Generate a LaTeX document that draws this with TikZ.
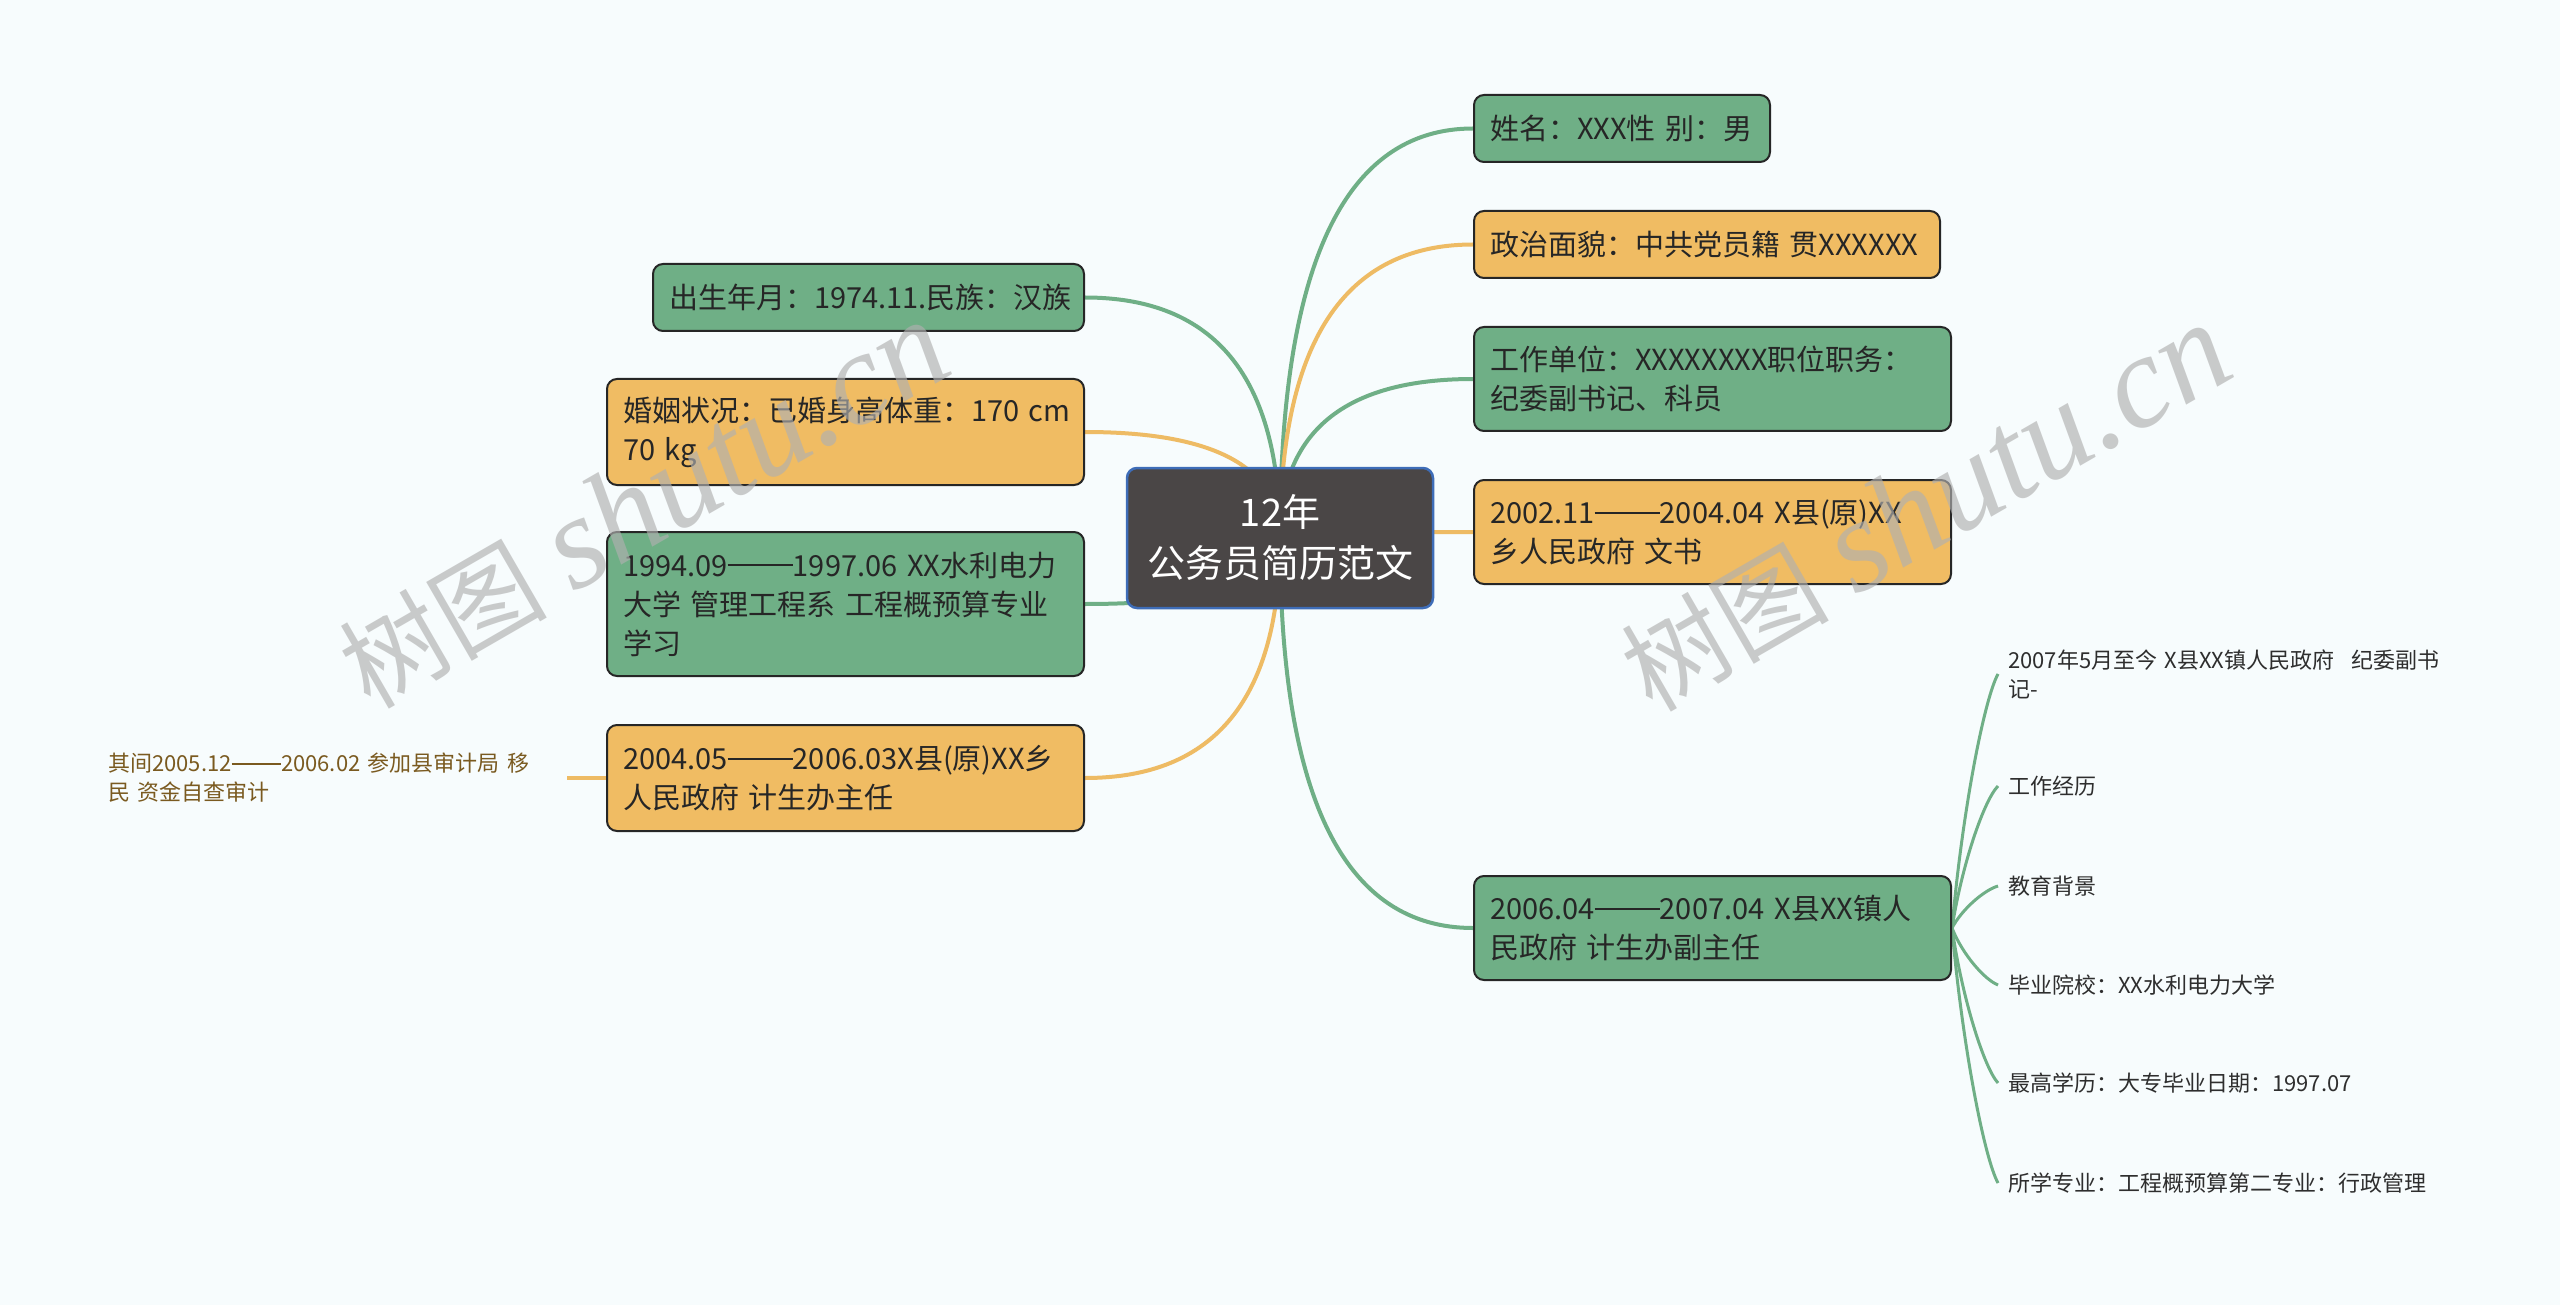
\documentclass[tikz,border=0pt]{standalone}
\usepackage{fontspec}
\setmainfont{Noto Sans CJK SC}
\newfontfamily\wmserif{Liberation Serif}
\usetikzlibrary{calc}
\pgfdeclarelayer{bglayer}
\pgfdeclarelayer{lines}
\pgfdeclarelayer{wmlayer}
\pgfsetlayers{bglayer,lines,main,wmlayer}
\definecolor{bgc}{HTML}{F7FCFD}
\definecolor{gfill}{HTML}{6FAF86}
\definecolor{ofill}{HTML}{F0BC63}
\definecolor{gline}{HTML}{6FAF86}
\definecolor{oline}{HTML}{EEBB64}
\definecolor{cfill}{HTML}{4A4646}
\definecolor{cborder}{HTML}{3E6DB8}
\definecolor{boxtext}{HTML}{262626}
\definecolor{subtext}{HTML}{2E2E2E}
\definecolor{browntext}{HTML}{7A5A20}
\definecolor{wmc}{HTML}{B0B0B0}
\newcommand\dd{\rule[0.33em]{2.25em}{0.07em}}
\newcommand\gapsp{\nobreak\hspace{0.34em}\nobreak}
\begin{document}
\begin{tikzpicture}[x=1pt,y=-1pt,
  topic/.style={draw=boxtext, line width=2pt, rounded corners=10pt, inner xsep=16pt, inner ysep=0pt,
    align=left, font=\fontsize{29}{39}\selectfont, text=boxtext},
  gtopic/.style={topic, fill=gfill},
  otopic/.style={topic, fill=ofill},
  central/.style={draw=cborder, line width=2.5pt, fill=cfill, rounded corners=10pt, minimum width=306pt,
    minimum height=140pt, text=white, align=center, font=\fontsize{38}{51}\selectfont},
  subtopic/.style={inner xsep=10pt, inner ysep=0pt, align=left, font=\fontsize{22}{29}\selectfont, text=subtext},
  branch/.style={line width=4pt},
  subbranch/.style={line width=3pt, gline},
  wmark/.style={text=wmc, opacity=0.65, font=\fontsize{104}{120}\selectfont, rotate=30}
]
\useasboundingbox (0,0) rectangle (2560,1305);
\begin{pgfonlayer}{bglayer}
\fill[bgc] (0,0) rectangle (2560,1305);
\end{pgfonlayer}

% central
\node[central] (c) at (1280,538) {12年\\公务员简历范文};

% right topics
\node[gtopic, text width=264pt, minimum height=67pt] (n1) at (1622,128.5) {姓名：XXX性~别：男};
\node[otopic, text width=434pt, minimum height=67pt] (n2) at (1707,244.5) {政治面貌：中共党员籍~贯XXXXXX};
\node[gtopic, text width=445pt, minimum height=104pt] (n3) at (1712.5,379) {工作单位：XXXXXXXX职位职务：\\纪委副书记、科员};
\node[otopic, text width=445pt, minimum height=104pt] (n4) at (1712.5,532) {2002.11\dd 2004.04\gapsp X县(原)XX\\乡人民政府\gapsp 文书};
\node[gtopic, text width=445pt, minimum height=104pt] (n5) at (1712.5,928) {2006.04\dd 2007.04\gapsp X县XX镇人\\民政府\gapsp 计生办副主任};

% left topics
\node[gtopic, text width=399pt, minimum height=67pt] (la) at (868.5,297.5) {出生年月：1974.11.民族：汉族};
\node[otopic, text width=445pt, minimum height=106pt] (lb) at (845.5,432) {婚姻状况：已婚身高体重：170~cm\\70~kg};
\node[gtopic, text width=445pt, minimum height=144pt] (lc) at (845.5,604) {1994.09\dd 1997.06\gapsp XX水利电力\\大学\gapsp 管理工程系\gapsp 工程概预算专业\\学习};
\node[otopic, text width=445pt, minimum height=106pt] (ld) at (845.5,778) {2004.05\dd 2006.03X县(原)XX乡\\人民政府\gapsp 计生办主任};

% left subtopic
\node[subtopic, text=browntext, inner xsep=0pt, text width=459pt, anchor=west] (le) at (108,778)
  {其间2005.12\dd 2006.02\gapsp 参加县审计局\gapsp 移\\民\gapsp 资金自查审计};

% right subtopics
\node[subtopic, anchor=west] (s1) at (1998,674) {2007年5月至今\gapsp X县XX镇人民政府\nobreak\hspace{0.75em}\nobreak 纪委副书\\记-};
\node[subtopic, anchor=west] (s2) at (1998,786) {工作经历};
\node[subtopic, anchor=west] (s3) at (1998,886) {教育背景};
\node[subtopic, anchor=west] (s4) at (1998,985) {毕业院校：XX水利电力大学};
\node[subtopic, anchor=west] (s5) at (1998,1083) {最高学历：大专毕业日期：1997.07};
\node[subtopic, anchor=west] (s6) at (1998,1183) {所学专业：工程概预算第二专业：行政管理};

\begin{pgfonlayer}{lines}
% main branches (quadratic curves from the centre)
\foreach \t/\col/\side in {n1/gline/west, n2/oline/west, n3/gline/west, n4/oline/west, n5/gline/west,
                           la/gline/east, lb/oline/east, lc/gline/east, ld/oline/east}{
  \draw[branch, \col] (c.center) .. controls ($(c.center)!0.6667!(c.center |- \t.\side)$)
     and ($(\t.\side)!0.6667!(c.center |- \t.\side)$) .. (\t.\side);
}
% left subtopic connector
\draw[branch, oline, line width=3.5pt] (le.east) -- (ld.west);
% right subtopic connectors
\foreach \s in {s1,s2,s3,s4,s5,s6}{
  \draw[subbranch] (n5.east) .. controls ($(n5.east)!0.45!(n5.east |- \s.west) + (10,0)$)
     and ($(\s.west)!0.1!(\s.west |- n5.east) + (-14,0)$) .. (\s.west);
}
\end{pgfonlayer}

\begin{pgfonlayer}{wmlayer}
\node[wmark] (wm1) at (643,505) {树图\hspace{0.25em}{\wmserif\itshape\fontsize{132}{140}\selectfont shutu.cn}};
\node[wmark] (wm2) at (1925,508) {树图\hspace{0.25em}{\wmserif\itshape\fontsize{132}{140}\selectfont shutu.cn}};
\end{pgfonlayer}
\end{tikzpicture}
\end{document}
